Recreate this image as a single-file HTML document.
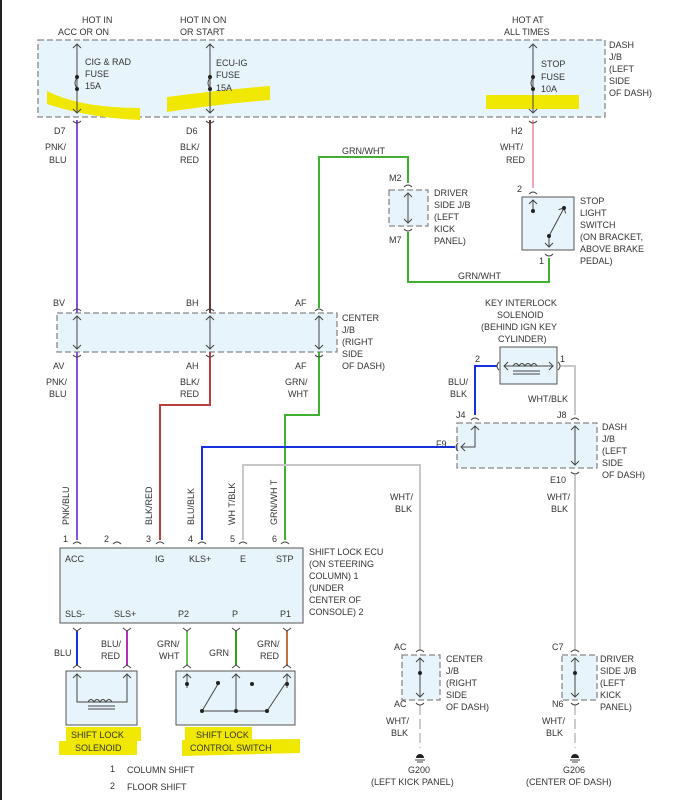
<!DOCTYPE html>
<html><head><meta charset="utf-8"><style>
html,body{margin:0;padding:0;background:#fff}
svg{display:block}
text{font-family:"Liberation Sans",sans-serif;font-size:9px;fill:#333}
</style></head><body>
<svg width="680" height="800" viewBox="0 0 680 800" xmlns="http://www.w3.org/2000/svg">
<rect x="0" y="0" width="2" height="800" fill="#222"/>
<defs>
<marker id="ah" markerWidth="10" markerHeight="10" refX="0" refY="0" orient="auto-start-reverse" markerUnits="userSpaceOnUse" overflow="visible"><path d="M-4,-4 L0,0 L-4,4" fill="none" stroke="#444" stroke-width="1"/></marker>
</defs>
<g stroke="#888" stroke-width="1.3" stroke-dasharray="6,3" fill="#e8f4fc">
<rect x="38" y="40" width="567" height="77"/>
<rect x="57" y="313" width="280" height="39"/>
<rect x="389" y="190" width="39" height="36"/>
<rect x="457" y="423" width="140" height="45"/>
<rect x="402" y="655" width="38" height="45"/>
<rect x="562" y="655" width="35" height="45"/>
</g>
<g stroke="#555" stroke-width="1" fill="#e8f4fc">
<rect x="522" y="197" width="52" height="53"/>
<rect x="500" y="347" width="57" height="37"/>
<rect x="60" y="548" width="243" height="75"/>
<rect x="66" y="671" width="71" height="54"/>
<rect x="176" y="671" width="119" height="54"/>
</g>
<g fill="#f0e800">
<path d="M47,91 Q80,108 140,108 L140,120 Q90,118 47,104Z"/>
<path d="M167,97 Q220,90 270,86 L270,100 Q220,104 167,112Z"/>
<rect x="486" y="95" width="93" height="14"/>
<rect x="66" y="727" width="75" height="14"/>
<rect x="59" y="741" width="78" height="14"/>
<rect x="185" y="727" width="67" height="14"/>
<path d="M182,740 L300,739 L300,753 L182,756Z"/>
</g>
<g fill="none" stroke-width="2">
<path d="M77,120 V313 M77,352 V540" stroke="#8a4fd8"/>
<path d="M210,120 V313" stroke="#6b3a3a"/>
<path d="M210,352 V405 H160 V540" stroke="#b84040"/>
<path d="M533,120 V188" stroke="#f0a8b0"/>
<path d="M319,308 V157 H408 V183 M408,232 V282 H549 V258" stroke="#40b030"/>
<path d="M319,352 V415 H285 V540" stroke="#40b030"/>
<path d="M455,447 H202 V540" stroke="#1530e0"/>
<path d="M497,366 H475 V415" stroke="#1530e0"/>
<path d="M243,540 V465 H420 V650" stroke="#c8c8c8"/>
<path d="M560,366 H575 V415 M575,475 V650" stroke="#c8c8c8"/>
<path d="M420,705 V748 M575,705 V748" stroke="#ccc" stroke-dasharray="10,4"/>
<path d="M77,631 V665" stroke="#1530e0"/>
<path d="M127,631 V665" stroke="#b030b0"/>
<path d="M187,631 V665" stroke="#70c050"/>
<path d="M236,631 V665" stroke="#30a020"/>
<path d="M287,631 V665" stroke="#c07040"/>
</g>
<g stroke="#444" stroke-width="1" fill="none" marker-start="url(#ah)" marker-end="url(#ah)">
<path d="M77,44 V113"/><path d="M210,44 V113"/><path d="M533,44 V113"/>
<path d="M77,316 V349"/><path d="M210,316 V349"/><path d="M319,316 V349"/>
<path d="M408,193 V223"/><path d="M575,426 V465"/>
<path d="M420,658 V697"/><path d="M575,658 V697"/>
</g>
<g stroke="#444" stroke-width="1" fill="none">
<path d="M475,426 V447 H461" marker-start="url(#ah)" marker-end="url(#ah)"/>
<path d="M504,366 H553" marker-start="url(#ah)" marker-end="url(#ah)"/>
<path d="M533,200 V211" marker-start="url(#ah)"/><path d="M549,236 V247" marker-end="url(#ah)"/>
<path d="M549,236 L564,208" marker-end="url(#ah)"/>
<path d="M77,674 V702 H127 V674" marker-start="url(#ah)" marker-end="url(#ah)"/>
<path d="M187,674 V688" marker-start="url(#ah)"/>
<path d="M236,674 V711" marker-start="url(#ah)"/>
<path d="M287,674 V688" marker-start="url(#ah)"/>
<path d="M202,711 H267 M267,711 L285,684" />
<path d="M202,711 L218,684"/>
<path d="M88,702 q3,-5 6,0 q3,-5 6,0 q3,-5 6,0 q3,-5 6,0"/>
<path d="M88,706 H115 M88,709 H115"/>
<path d="M513,366 q3,-5 6,0 q3,-5 6,0 q3,-5 6,0 q3,-5 6,0 M513,371 H540 M513,374 H540"/>
<path d="M77,78 q-4,5 0,10 M210,78 q-4,5 0,10 M533,78 q-4,5 0,10"/>
</g>
<g fill="#222">
<circle cx="77" cy="77" r="2"/><circle cx="77" cy="89" r="2"/>
<circle cx="210" cy="77" r="2"/><circle cx="210" cy="89" r="2"/>
<circle cx="533" cy="77" r="2"/><circle cx="533" cy="89" r="2"/>
<circle cx="533" cy="211" r="2"/><circle cx="564" cy="208" r="2"/><circle cx="549" cy="236" r="2"/>
<circle cx="187" cy="684" r="2"/><circle cx="218" cy="683" r="2"/><circle cx="252" cy="684" r="2"/><circle cx="287" cy="684" r="2"/>
<circle cx="202" cy="711" r="2"/><circle cx="236" cy="711" r="2"/><circle cx="267" cy="711" r="2"/>
<circle cx="420" cy="673" r="2"/><circle cx="575" cy="673" r="2"/>
<path d="M416,758 a4,4 0 0 1 8,0Z M571,758 a4,4 0 0 1 8,0Z"/>
</g>
<g stroke="#444" stroke-width="1">
<path d="M415,760 H425 M417,762 H423 M570,760 H580 M572,762 H578"/>
</g>
<g stroke="#444" stroke-width="1" fill="none">
<path d="M73,121 q4,4 8,0 M206,121 q4,4 8,0 M529,121 q4,4 8,0"/>
<path d="M73,311 q4,-4 8,0 M206,311 q4,-4 8,0 M315,311 q4,-4 8,0 M73,355 q4,4 8,0 M206,355 q4,4 8,0 M315,355 q4,4 8,0"/>
<path d="M404,187 q4,-4 8,0 M404,229 q4,4 8,0 M529,194 q4,-4 8,0 M545,254 q4,4 8,0"/>
<path d="M471,420 q4,-4 8,0 M571,420 q4,-4 8,0 M571,472 q4,4 8,0 M458,443 q-4,4 0,8 M499,362 q-4,4 0,8 M558,362 q4,4 0,8"/>
<path d="M73,544 q4,-4 8,0 M113,544 q4,-4 8,0 M156,544 q4,-4 8,0 M198,544 q4,-4 8,0 M239,544 q4,-4 8,0 M281,544 q4,-4 8,0"/>
<path d="M73,628 l4,3 l4,-3 M123,628 l4,3 l4,-3 M183,628 l4,3 l4,-3 M232,628 l4,3 l4,-3 M283,628 l4,3 l4,-3"/>
<path d="M73,668 l4,-3 l4,3 M123,668 l4,-3 l4,3 M183,668 l4,-3 l4,3 M232,668 l4,-3 l4,3 M283,668 l4,-3 l4,3"/>
<path d="M416,652 q4,-4 8,0 M416,703 q4,4 8,0 M571,652 q4,-4 8,0 M571,703 q4,4 8,0"/>
</g>
<text x="82" y="23">HOT IN</text><text x="58" y="35">ACC OR ON</text>
<text x="180" y="23">HOT IN ON</text><text x="180" y="35">OR START</text>
<text x="512" y="23">HOT AT</text><text x="504" y="35">ALL TIMES</text>
<text x="85" y="65">CIG &amp; RAD</text><text x="85" y="77">FUSE</text><text x="85" y="89">15A</text>
<text x="216" y="66">ECU-IG</text><text x="216" y="78">FUSE</text><text x="216" y="91">15A</text>
<text x="541" y="67">STOP</text><text x="541" y="80">FUSE</text><text x="541" y="92">10A</text>
<text x="609" y="48">DASH</text><text x="609" y="60">J/B</text><text x="609" y="72">(LEFT</text><text x="609" y="84">SIDE</text><text x="609" y="96">OF DASH)</text>
<text x="54" y="134">D7</text><text x="45" y="150">PNK/</text><text x="49" y="163">BLU</text>
<text x="186" y="134">D6</text><text x="180" y="150">BLK/</text><text x="180" y="163">RED</text>
<text x="511" y="134">H2</text><text x="500" y="150">WHT/</text><text x="506" y="163">RED</text>
<text x="342" y="154">GRN/WHT</text>
<text x="389" y="181">M2</text><text x="389" y="243">M7</text>
<text x="434" y="196">DRIVER</text><text x="434" y="208">SIDE J/B</text><text x="434" y="220">(LEFT</text><text x="434" y="232">KICK</text><text x="434" y="244">PANEL)</text>
<text x="517" y="192">2</text><text x="539" y="264">1</text>
<text x="580" y="204">STOP</text><text x="580" y="216">LIGHT</text><text x="580" y="228">SWITCH</text><text x="580" y="240">(ON BRACKET,</text><text x="580" y="252">ABOVE BRAKE</text><text x="580" y="264">PEDAL)</text>
<text x="458" y="279">GRN/WHT</text>
<text x="53" y="306">BV</text><text x="186" y="306">BH</text><text x="295" y="306">AF</text>
<text x="53" y="369">AV</text><text x="186" y="369">AH</text><text x="295" y="369">AF</text>
<text x="46" y="385">PNK/</text><text x="49" y="397">BLU</text>
<text x="180" y="385">BLK/</text><text x="180" y="397">RED</text>
<text x="285" y="385">GRN/</text><text x="288" y="397">WHT</text>
<text x="342" y="321">CENTER</text><text x="342" y="333">J/B</text><text x="342" y="345">(RIGHT</text><text x="342" y="357">SIDE</text><text x="342" y="369">OF DASH)</text>
<text x="485" y="306">KEY INTERLOCK</text><text x="497" y="318">SOLENOID</text><text x="481" y="330">(BEHIND IGN KEY</text><text x="498" y="342">CYLINDER)</text>
<text x="475" y="362">2</text><text x="560" y="362">1</text>
<text x="448" y="385">BLU/</text><text x="450" y="397">BLK</text>
<text x="528" y="402">WHT/BLK</text>
<text x="456" y="418">J4</text><text x="557" y="418">J8</text><text x="436" y="447">F9</text><text x="550" y="483">E10</text>
<text x="602" y="430">DASH</text><text x="602" y="442">J/B</text><text x="602" y="454">(LEFT</text><text x="602" y="466">SIDE</text><text x="602" y="478">OF DASH)</text>
<text x="390" y="500">WHT/</text><text x="395" y="512">BLK</text>
<text x="547" y="500">WHT/</text><text x="551" y="512">BLK</text>
<text transform="translate(69,525) rotate(-90)">PNK/BLU</text>
<text transform="translate(152,525) rotate(-90)">BLK/RED</text>
<text transform="translate(194,525) rotate(-90)">BLU/BLK</text>
<text transform="translate(235,525) rotate(-90)">WH T/BLK</text>
<text transform="translate(277,525) rotate(-90)">GRN/WH T</text>
<text x="63" y="542">1</text><text x="104" y="542">2</text><text x="146" y="542">3</text><text x="188" y="542">4</text><text x="230" y="542">5</text><text x="272" y="542">6</text>
<text x="65" y="562">ACC</text><text x="155" y="562">IG</text><text x="189" y="562">KLS+</text><text x="240" y="562">E</text><text x="276" y="562">STP</text>
<text x="65" y="617">SLS-</text><text x="114" y="617">SLS+</text><text x="178" y="617">P2</text><text x="232" y="617">P</text><text x="280" y="617">P1</text>
<text x="309" y="555">SHIFT LOCK ECU</text><text x="309" y="567">(ON STEERING</text><text x="309" y="579">COLUMN)  1</text><text x="309" y="591">(UNDER</text><text x="309" y="603">CENTER OF</text><text x="309" y="615">CONSOLE)  2</text>
<text x="54" y="656">BLU</text><text x="101" y="647">BLU/</text><text x="101" y="659">RED</text>
<text x="157" y="647">GRN/</text><text x="159" y="659">WHT</text><text x="209" y="656">GRN</text>
<text x="257" y="647">GRN/</text><text x="260" y="659">RED</text>
<text x="71" y="738">SHIFT LOCK</text><text x="75" y="751">SOLENOID</text>
<text x="196" y="738">SHIFT LOCK</text><text x="190" y="751">CONTROL SWITCH</text>
<text x="110" y="772">1</text><text x="127" y="773">COLUMN SHIFT</text>
<text x="110" y="789">2</text><text x="127" y="790">FLOOR SHIFT</text>
<text x="394" y="650">AC</text><text x="394" y="707">AC</text>
<text x="446" y="662">CENTER</text><text x="446" y="674">J/B</text><text x="446" y="686">(RIGHT</text><text x="446" y="698">SIDE</text><text x="446" y="710">OF DASH)</text>
<text x="386" y="724">WHT/</text><text x="391" y="736">BLK</text>
<text x="408" y="773">G200</text><text x="371" y="785">(LEFT KICK PANEL)</text>
<text x="552" y="650">C7</text><text x="552" y="707">N6</text>
<text x="600" y="662">DRIVER</text><text x="600" y="674">SIDE J/B</text><text x="600" y="686">(LEFT</text><text x="600" y="698">KICK</text><text x="600" y="710">PANEL)</text>
<text x="542" y="724">WHT/</text><text x="546" y="736">BLK</text>
<text x="563" y="773">G206</text><text x="526" y="785">(CENTER OF DASH)</text>
</svg>
</body></html>
